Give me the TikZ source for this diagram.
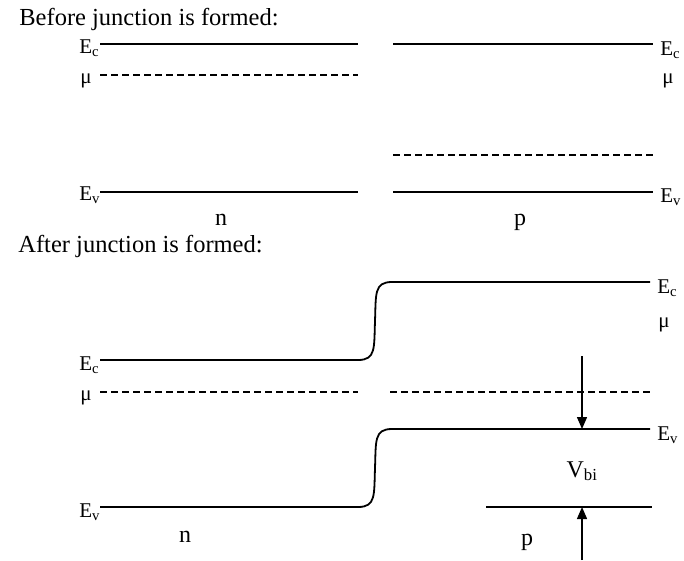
\documentclass[tikz,border=0pt]{standalone}
\usepackage{fontspec}
\setmainfont{Liberation Serif}
\usetikzlibrary{arrows.meta}

\tikzset{every picture/.style={line width=0.75pt}}
\tikzset{
  band/.style={line width=2.4pt},
  fermi/.style={line width=2pt, dash pattern=on 7pt off 4pt},
  lbl/.style={font=\fontsize{21}{24}\selectfont, inner sep=0pt},
  title/.style={font=\fontsize{24.5}{28}\selectfont, inner sep=0pt},
  side/.style={font=\fontsize{24}{28}\selectfont, inner sep=0pt},
  bias/.style={-{Triangle[width=10pt,length=12pt]}, line width=1.4pt}
}

\begin{document}
\begin{tikzpicture}[x=1pt,y=-1pt]
        \useasboundingbox (0,0) rectangle (684,560);
        % before the junction
        \node[title, anchor=base west] (before) at (19,25) {Before junction is formed:};
        \draw[band] (100,44) -- (358,44);
        \draw[band] (393,44) -- (653,44);
        \draw[fermi] (100,75) -- (358,75);
        \draw[fermi] (393,155) -- (653,155);
        \draw[band] (100,192) -- (358,192);
        \draw[band] (393,192) -- (653,192);
        \node[lbl, anchor=base west] (ecn) at (79,53) {E\textsubscript{c}};
        \node[lbl, anchor=base west] (mun) at (80,83) {μ};
        \node[lbl, anchor=base west] (evn) at (79,200) {E\textsubscript{v}};
        \node[lbl, anchor=base west] (ecp) at (660,55) {E\textsubscript{c}};
        \node[lbl, anchor=base west] (mup) at (662,83) {μ};
        \node[lbl, anchor=base west] (evp) at (660,202) {E\textsubscript{v}};
        \node[side, anchor=base] (ntop) at (221,225) {n};
        \node[side, anchor=base] (ptop) at (520,225) {p};
        % after the junction
        \node[title, anchor=base west] (after) at (18,252) {After junction is formed:};
        \draw[band, line width=1.8pt] (100,360) -- (358,360)
            .. controls (376,360) and (374,348) .. (375,321)
            .. controls (376,294) and (374,282) .. (392,282) -- (650,282);
        \draw[band, line width=1.8pt] (100,507) -- (358,507)
            .. controls (376,507) and (374,495) .. (375,468)
            .. controls (376,441) and (374,429) .. (392,429) -- (650,429);
        \draw[fermi] (100,392) -- (358,392);
        \draw[fermi] (390,392) -- (650,392);
        \draw[band, line width=1.8pt] (486,507) -- (652,507);
        \node[lbl, anchor=base west] (ecl) at (79,370) {E\textsubscript{c}};
        \node[lbl, anchor=base west] (mul) at (80,400) {μ};
        \node[lbl, anchor=base west] (evl) at (79,517) {E\textsubscript{v}};
        \node[lbl, anchor=base west] (ecr) at (657,293) {E\textsubscript{c}};
        \node[lbl, anchor=base west] (mur) at (658,327) {μ};
        \node[lbl, anchor=base west] (evr) at (657,440) {E\textsubscript{v}};
        \node[side, anchor=base] (vbi) at (582,477) {V\textsubscript{bi}};
        \node[side, anchor=base] (nbot) at (185,542) {n};
        \node[side, anchor=base] (pbot) at (527,545) {p};
        \coordinate (downtop) at (582,356);
        \coordinate (downend) at (582,429);
        \coordinate (uptop) at (582,507);
        \coordinate (upend) at (582,560);
        \draw[bias] (downtop) -- (downend);
        \draw[bias] (upend) -- (uptop);
    \end{tikzpicture}
\end{document}
